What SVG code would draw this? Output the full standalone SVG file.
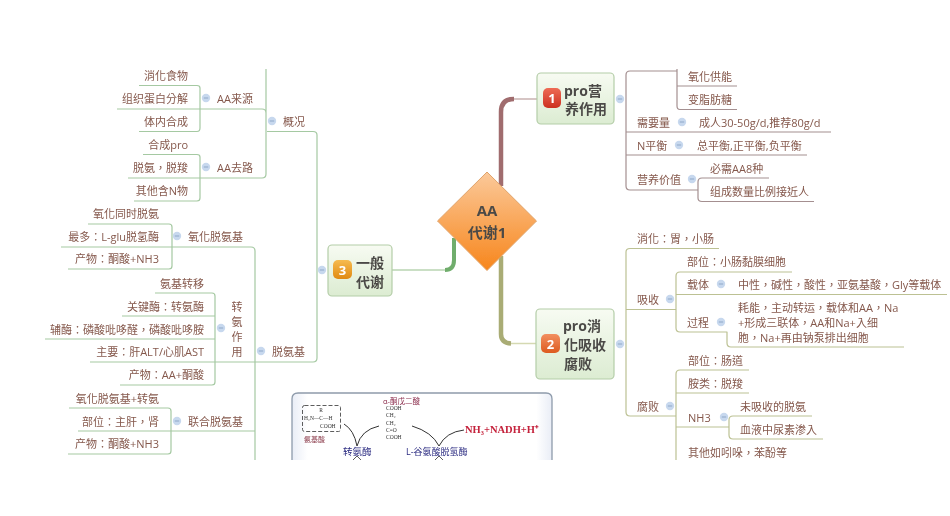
<svg xmlns="http://www.w3.org/2000/svg" width="950" height="516" viewBox="0 0 950 516">
<style>
text{font-family:"Open Sans","Noto Sans CJK TC",sans-serif;font-size:11px;fill:#85584c;dominant-baseline:central}
.e{text-anchor:end}
.m{text-anchor:middle}
.b{font-weight:700;font-size:14px;fill:#4b4a46}
.g,.r,.o{fill:none;stroke-width:1.2;stroke-linejoin:round}
.g{stroke:#a5c9a2}
.r{stroke:#a48f90}
.o{stroke:#bcc193}
.box{stroke:#b4cda8;stroke-width:1.2}
.c{fill:#c7d8ee}
.cl{stroke:#8fa8c8;stroke-width:1}
.bt{font-size:13px;font-weight:700;fill:#fff;text-anchor:middle}
.chem{font-family:"Liberation Serif",serif;font-size:5.500px;fill:#333}
</style>
<defs>
<linearGradient id="nf" x1="0" y1="0" x2="0" y2="1"><stop offset="0" stop-color="#f7fbf2"/><stop offset="1" stop-color="#dcecd2"/></linearGradient>
<linearGradient id="df" x1="0" y1="0" x2="0" y2="1"><stop offset="0" stop-color="#fbc99a"/><stop offset="1" stop-color="#f7861c"/></linearGradient>
<linearGradient id="b1" x1="0" y1="0" x2="0" y2="1"><stop offset="0" stop-color="#ee6b55"/><stop offset="1" stop-color="#cc3020"/></linearGradient>
<linearGradient id="b2" x1="0" y1="0" x2="0" y2="1"><stop offset="0" stop-color="#f28f5f"/><stop offset="1" stop-color="#dd5a20"/></linearGradient>
<linearGradient id="b3" x1="0" y1="0" x2="0" y2="1"><stop offset="0" stop-color="#f6bb50"/><stop offset="1" stop-color="#e08a12"/></linearGradient>
<linearGradient id="pf" x1="0" y1="0" x2="1" y2="0"><stop offset="0" stop-color="#e9edf6"/><stop offset=".06" stop-color="#fff"/><stop offset=".94" stop-color="#fff"/><stop offset="1" stop-color="#e9edf6"/></linearGradient>
<filter id="soft" filterUnits="userSpaceOnUse" x="0" y="0" width="950" height="516"><feGaussianBlur stdDeviation="0.35"/></filter>
<g id="col"><circle r="4.2" class="c"/><path d="M-2.2 0H2.2" class="cl"/></g>
</defs>
<rect width="950" height="516" fill="#fff"/>
<g filter="url(#soft)">
<g id="connectors">
<path d="M501 186V112Q501 99 514 99" fill="none" stroke="#a06c6e" stroke-width="4.5"/>
<path d="M514 99H537" fill="none" stroke="#c9b2b0" stroke-width="1.5"/>
<path d="M501 256V334Q501 343 511 343.500" fill="none" stroke="#a9ac74" stroke-width="4.500"/>
<path d="M511 343.500H536" fill="none" stroke="#d5d9b2" stroke-width="1.500"/>
<path d="M454 238V260Q454 270 445 270" fill="none" stroke="#70ad6c" stroke-width="4"/>
<path d="M445 270H392" fill="none" stroke="#b9d5b2" stroke-width="1.500"/>
<path class="g" d="M267 131.500H313Q317 131.500 317 135V358Q317 362 313 362H255M215 362H255"/>
<path class="g" d="M266 69V174Q266 178 262 178H128M117 109H262Q266 109 266 113"/>
<path class="g" d="M139 85.500H197Q200 85.500 200 88V128Q200 131.500 197 131.500H139"/>
<path class="g" d="M143 154.500H197Q200 154.500 200 157V198Q200 201 197 201H134"/>
<path class="g" d="M61 247H251Q255 247 255 251V460M78 431H255"/>
<path class="g" d="M88 224H169Q172 224 172 227V266Q172 269 169 269H68"/>
<path class="g" d="M155 293H212Q215 293 215 296V382Q215 385 212 385H120M122 316H215M45 339H215M90 362H215"/>
<path class="g" d="M69 408H168Q171 408 171 411V451Q171 454 168 454H68"/>
<path class="r" d="M677 71H630Q626 71 626 75V186Q626 190 630 190H698M626 132H831M626 155H807"/>
<path class="r" d="M677 69V106Q677 109.500 680 109.500H737M677 86H737"/>
<path class="r" d="M769 178H702Q698 178 698 182V198Q698 201.500 702 201.500H814"/>
<path class="o" d="M719 248.500H630Q626 248.500 626 252V412Q626 416 630 416H676M626 309.500H676"/>
<path class="o" d="M792 272H680Q676 272 676 276V328Q676 332 680 332H727V343Q727 347 731 347H904M676 294.500H947"/>
<path class="o" d="M749 370H680Q676 370 676 374V460M676 393H749M676 427H729"/>
<path class="o" d="M812 416H733Q729 416 729 420V435Q729 439 733 439H823"/>
</g>
<g id="center"><path d="M487 172L536.500 221L487 270.500L437.500 221Z" fill="url(#df)" stroke="#dfa36b"/><text class="b m" x="487" y="210" style="font-size:15px">AA</text><text class="b m" x="487" y="232" style="font-size:15px">代谢1</text></g>
<g id="n1"><rect class="box" x="537" y="73" width="77" height="51" rx="4" fill="url(#nf)"/><rect x="543" y="88" width="18" height="20" rx="5" fill="url(#b1)"/><text class="bt" x="552" y="98">1</text><text class="b" x="564" y="90">pro营</text><text class="b" x="565" y="108">养作用</text><use href="#col" x="620" y="99"/></g>
<g id="n2"><rect class="box" x="536" y="309" width="78" height="70" rx="4" fill="url(#nf)"/><rect x="541" y="334" width="19" height="19" rx="5" fill="url(#b2)"/><text class="bt" x="550.500" y="343.500">2</text><text class="b" x="563" y="325">pro消</text><text class="b" x="564" y="344">化吸收</text><text class="b" x="564" y="363">腐败</text><use href="#col" x="620" y="344"/></g>
<g id="n3"><rect class="box" x="328" y="245" width="64" height="51" rx="4" fill="url(#nf)"/><rect x="333" y="260" width="19" height="19" rx="5" fill="url(#b3)"/><text class="bt" x="342.500" y="269.500">3</text><text class="b" x="356" y="262">一般</text><text class="b" x="356" y="281">代谢</text><use href="#col" x="322" y="270"/></g>
<g id="gaikuang"><text x="283" y="121">概况</text><use href="#col" x="272" y="121"/></g>
<g id="aalaiyuan"><text x="217" y="98">AA来源</text><use href="#col" x="206" y="98"/></g>
<g id="l1"><text class="e" x="188" y="75">消化食物</text></g>
<g id="l2"><text class="e" x="188" y="98">组织蛋白分解</text></g>
<g id="l3"><text class="e" x="188" y="121">体内合成</text></g>
<g id="aaqulu"><text x="217" y="167">AA去路</text><use href="#col" x="206" y="167"/></g>
<g id="l4"><text class="e" x="188" y="144">合成pro</text></g>
<g id="l5"><text class="e" x="188" y="167">脱氨，脱羧</text></g>
<g id="l6"><text class="e" x="188" y="190">其他含N物</text></g>
<g id="tuoanji"><text x="272" y="351">脱氨基</text><use href="#col" x="261" y="351"/></g>
<g id="yanghua"><text x="188" y="236">氧化脱氨基</text><use href="#col" x="177" y="236"/></g>
<g id="l7"><text class="e" x="159" y="213">氧化同时脱氨</text></g>
<g id="l8"><text class="e" x="159" y="236">最多：L-glu脱氢酶</text></g>
<g id="l9"><text class="e" x="159" y="258">产物：酮酸+NH3</text></g>
<g id="zhuanan"><text class="m" x="237" y="306">转</text><text class="m" x="237" y="321">氨</text><text class="m" x="237" y="336">作</text><text class="m" x="237" y="351">用</text><use href="#col" x="221" y="328"/></g>
<g id="l10"><text class="e" x="204" y="283">氨基转移</text></g>
<g id="l11"><text class="e" x="204" y="306">关键酶：转氨酶</text></g>
<g id="l12"><text class="e" x="204" y="329">辅酶：磷酸吡哆醛，磷酸吡哆胺</text></g>
<g id="l13"><text class="e" x="204" y="351">主要：肝ALT/心肌AST</text></g>
<g id="l14"><text class="e" x="204" y="374">产物：AA+酮酸</text></g>
<g id="lianhe"><text x="188" y="421">联合脱氨基</text><use href="#col" x="177" y="421"/></g>
<g id="l15"><text class="e" x="159" y="398">氧化脱氨基+转氨</text></g>
<g id="l16"><text class="e" x="159" y="421">部位：主肝，肾</text></g>
<g id="l17"><text class="e" x="159" y="443">产物：酮酸+NH3</text></g>
<g id="r1"><text x="688" y="76">氧化供能</text></g>
<g id="r2"><text x="688" y="99">变脂肪糖</text></g>
<g id="r3"><text x="637" y="122">需要量</text><use href="#col" x="682" y="122"/></g>
<g id="r4"><text x="699" y="122">成人30-50g/d,推荐80g/d</text></g>
<g id="r5"><text x="637" y="145">N平衡</text><use href="#col" x="679" y="145"/></g>
<g id="r6"><text x="697" y="145">总平衡,正平衡,负平衡</text></g>
<g id="r7"><text x="637" y="179">营养价值</text><use href="#col" x="692" y="179"/></g>
<g id="r8"><text x="710" y="168">必需AA8种</text></g>
<g id="r9"><text x="710" y="191">组成数量比例接近人</text></g>
<g id="s1"><text x="637" y="238">消化：胃，小肠</text></g>
<g id="s2"><text x="637" y="299">吸收</text><use href="#col" x="670" y="299"/></g>
<g id="s3"><text x="687" y="261">部位：小肠黏膜细胞</text></g>
<g id="s4"><text x="687" y="284">载体</text><use href="#col" x="721" y="284"/></g>
<g id="s5"><text x="738" y="284">中性，碱性，酸性，亚氨基酸，Gly等载体</text></g>
<g id="s6"><text x="687" y="322">过程</text><use href="#col" x="721" y="322"/></g>
<g id="s7"><text x="738" y="307">耗能，主动转运，载体和AA，Na</text><text x="738" y="322.500">+形成三联体，AA和Na+入细</text><text x="738" y="337">胞，Na+再由钠泵排出细胞</text></g>
<g id="s8"><text x="637" y="406">腐败</text><use href="#col" x="670" y="406"/></g>
<g id="s9"><text x="688" y="360">部位：肠道</text></g>
<g id="s10"><text x="688" y="383">胺类：脱羧</text></g>
<g id="s11"><text x="688" y="417">NH3</text><use href="#col" x="724" y="417"/></g>
<g id="s12"><text x="740" y="406">未吸收的脱氨</text></g>
<g id="s13"><text x="740" y="429">血液中尿素渗入</text></g>
<g id="s14"><text x="688" y="452">其他如吲哚，苯酚等</text></g>
<g id="picture">
<path d="M292 460V399Q292 393 298 393H546Q552 393 552 399V460" fill="url(#pf)" stroke="#8e9bab" stroke-width="1.300"/>
<rect x="302.500" y="405.500" width="38" height="26" rx="2" fill="none" stroke="#333" stroke-width=".8" stroke-dasharray="4 2"/>
<text class="chem" x="321" y="410" text-anchor="middle">R</text>
<text class="chem" x="304" y="418">H₂N—C—H</text>
<text class="chem" x="320" y="426">COOH</text>
<text x="304" y="439" style="font-size:7px;fill:#8a3a4a">氨基酸</text>
<text x="383" y="401" style="font-size:7.500px;fill:#8a2a4a">α-酮戊二酸</text>
<text class="chem" x="386" y="408">COOH</text>
<text class="chem" x="386" y="415">CH₂</text>
<text class="chem" x="386" y="423">CH₂</text>
<text class="chem" x="386" y="430">C=O</text>
<text class="chem" x="386" y="437">COOH</text>
<path d="M344 424Q354 430 357 446Q361 430 379 426" fill="none" stroke="#333" stroke-width="1"/>
<path d="M412 426Q432 432 439 446Q446 432 464 430" fill="none" stroke="#333" stroke-width="1"/>
<text x="465" y="429" style="font-family:'Liberation Serif',serif;font-size:10.500px;font-weight:700;fill:#c4203a">NH₃+NADH+H⁺</text>
<text x="343" y="451" style="font-size:9.500px;fill:#2a2a80">转氨酶</text>
<text x="406" y="451" style="font-size:9px;fill:#2a2a80">L-谷氨酸脱氢酶</text>
<path d="M353 460L357 456L361 460M435 460L439 456L443 460" fill="none" stroke="#333" stroke-width=".8"/>
</g>
</g>
</svg>
